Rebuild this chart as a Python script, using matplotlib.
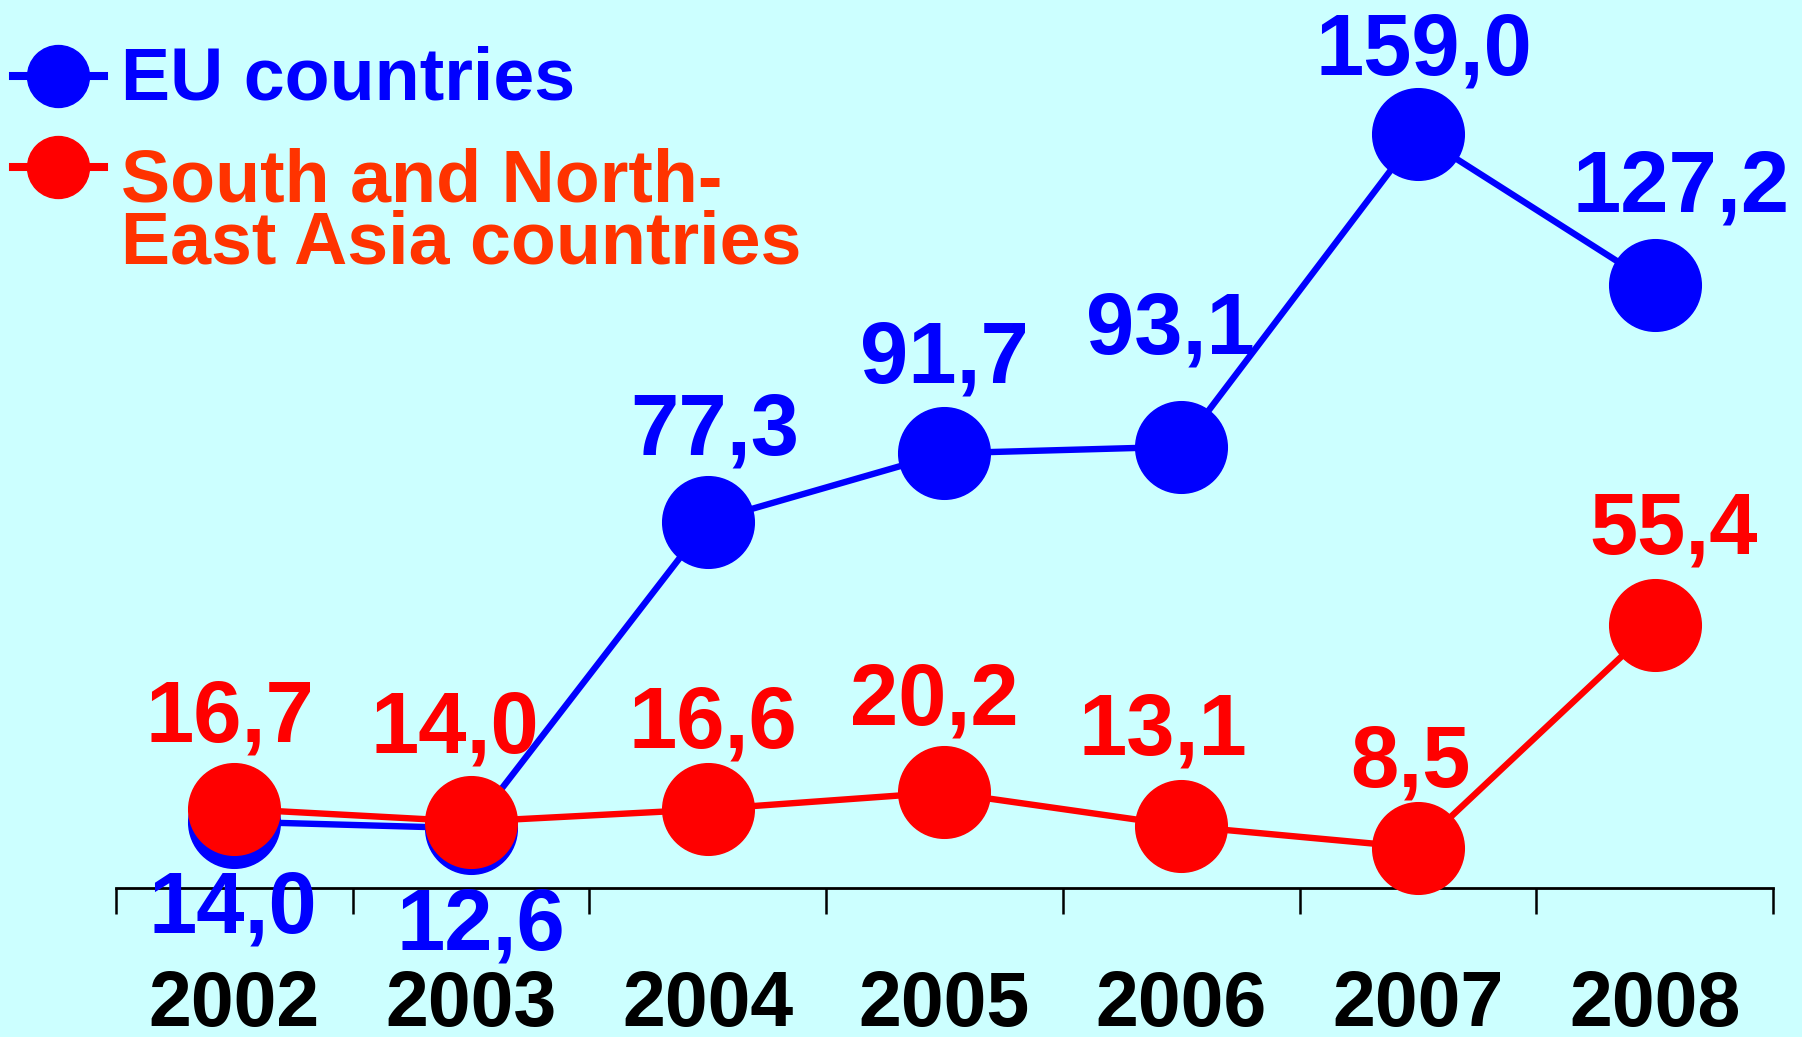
import matplotlib
matplotlib.use("Agg")
import matplotlib.pyplot as plt
from matplotlib.lines import Line2D

plt.rcParams['font.family'] = ['Liberation Sans', 'DejaVu Sans']
plt.rcParams['font.weight'] = 'bold'

# ── data ──
years = ["2002", "2003", "2004", "2005", "2006", "2007", "2008"]
eu_values = [14.0, 12.6, 77.3, 91.7, 93.1, 159.0, 127.2]
asia_values = [16.7, 14.0, 16.6, 20.2, 13.1, 8.5, 55.4]
eu_labels = ["14,0", "12,6", "77,3", "91,7", "93,1", "159,0", "127,2"]
asia_labels = ["16,7", "14,0", "16,6", "20,2", "13,1", "8,5", "55,4"]
eu_name = "EU countries"
asia_name = ["South and North-", "East Asia countries"]

# label placement (pixel offsets of the text centre from the point)
eu_dx = [-2, 10, 7, 0, -11, 6, 26]
eu_dy = [-80, -90, 98, 102, 124, 91, 105]
asia_dx = [-4, -16, 5, -10, -18, -7, 19]
asia_dy = [98, 100, 93, 99, 102, 92, 103]

BG = "#CCFFFF"
BLUE = "#0000FF"
RED = "#FF0000"
ORANGE = "#FF3300"

W, H = 1802, 1037
fig = plt.figure(figsize=(W / 100, H / 100), dpi=100, facecolor=BG)
ax = fig.add_axes([116 / W, (H - 888) / H, 1657 / W, 888 / H])
ax.set_facecolor("none")
ax.set_xlim(-0.5, 6.5)
ax.set_ylim(0, 888 / 4.74)

x = list(range(len(years)))
ax.plot(x, eu_values, color=BLUE, lw=4.6, marker="o", ms=66,
        mfc=BLUE, mec=BLUE, clip_on=False, zorder=5)
ax.plot(x, asia_values, color=RED, lw=4.6, marker="o", ms=66,
        mfc=RED, mec=RED, clip_on=False, zorder=6)

# value labels (cap-centre offset -> baseline offset, cap height ~62 px)
for i in x:
    ax.annotate(eu_labels[i], (i, eu_values[i]),
                xytext=(eu_dx[i], eu_dy[i] - 31), textcoords="offset pixels",
                ha="center", va="baseline", color=BLUE, fontsize=62.5,
                fontweight="bold", annotation_clip=False, zorder=8)
    ax.annotate(asia_labels[i], (i, asia_values[i]),
                xytext=(asia_dx[i], asia_dy[i] - 31), textcoords="offset pixels",
                ha="center", va="baseline", color=RED, fontsize=62.5,
                fontweight="bold", annotation_clip=False, zorder=8)

# axes: only the baseline with boundary ticks
for side in ["left", "right", "top"]:
    ax.spines[side].set_visible(False)
ax.spines["bottom"].set_linewidth(2)
ax.spines["bottom"].set_color("black")
ax.set_yticks([])
ax.set_xticks([i - 0.5 for i in range(len(years) + 1)])
ax.set_xticklabels([])
ax.tick_params(axis="x", which="major", length=19, width=1.8, direction="out",
               color="black")
ax.set_xticks(x, minor=True)
ax.set_xticklabels(years, minor=True, fontsize=55.5, fontweight="bold")
ax.tick_params(axis="x", which="minor", length=0, pad=58)

# legend, drawn by hand
def legend_entry(y_px, color):
    yf = 1 - y_px / H
    fig.add_artist(Line2D([13 / W, 104 / W], [yf, yf], color=color, lw=5.8,
                          transform=fig.transFigure))
    fig.add_artist(Line2D([58 / W], [yf], color=color, marker="o", ms=44.6,
                          mfc=color, mec=color, transform=fig.transFigure))

legend_entry(76, BLUE)
legend_entry(167, RED)
fig.text(121 / W, 1 - 100 / H, eu_name, color=BLUE, fontsize=53,
         fontweight="bold", va="baseline", ha="left")
fig.text(121 / W, 1 - 201 / H, asia_name[0], color=ORANGE, fontsize=53,
         fontweight="bold", va="baseline", ha="left")
fig.text(121 / W, 1 - 264 / H, asia_name[1], color=ORANGE, fontsize=53,
         fontweight="bold", va="baseline", ha="left")

fig.savefig("out.png", dpi=100, facecolor=BG)
